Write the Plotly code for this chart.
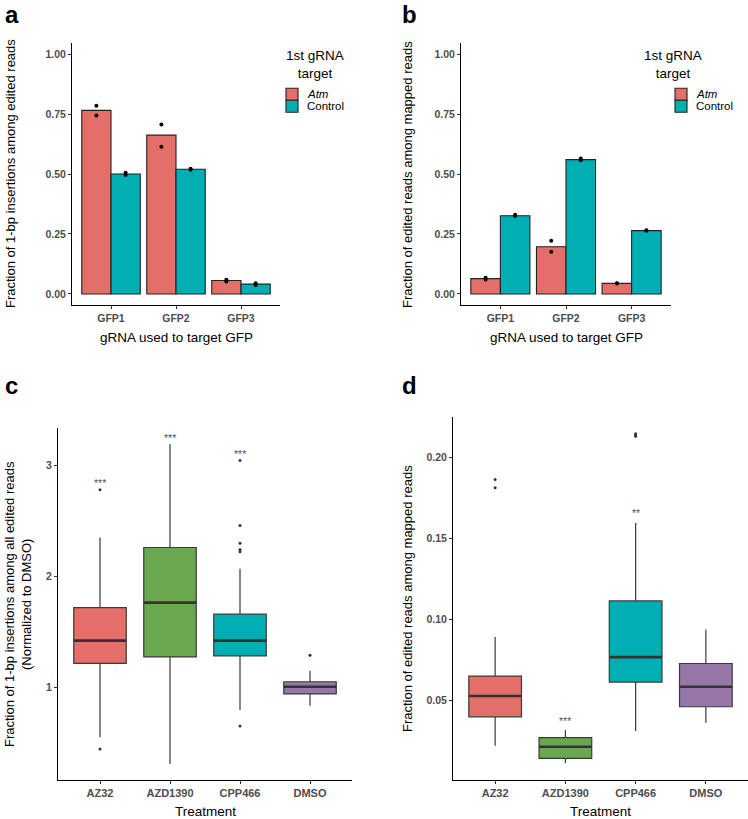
import plotly.graph_objects as go

W, H = 748, 819

# ---- panels a / b : bar charts ----
guides = ["GFP1", "GFP2", "GFP3"]
a_atm = [0.765, 0.662, 0.056]
a_ctrl = [0.500, 0.520, 0.041]
a_atm_rep1 = [0.784, 0.706, 0.059]
a_atm_rep2 = [0.744, 0.614, 0.052]
a_ctrl_rep1 = [0.505, 0.522, 0.045]
a_ctrl_rep2 = [0.496, 0.518, 0.037]

b_atm = [0.064, 0.197, 0.044]
b_ctrl = [0.326, 0.560, 0.264]
b_atm_rep1 = [0.068, 0.222, 0.045]
b_atm_rep2 = [0.060, 0.176, 0.044]
b_ctrl_rep1 = [0.330, 0.565, 0.266]
b_ctrl_rep2 = [0.325, 0.557, 0.263]

# ---- panels c / d : box plots (precomputed stats) ----
treatments = ["AZ32", "AZD1390", "CPP466", "DMSO"]
c_q1 = [1.216, 1.273, 1.282, 0.940]
c_med = [1.420, 1.762, 1.420, 1.005]
c_q3 = [1.717, 2.258, 1.658, 1.050]
c_lo = [0.550, 0.309, 0.795, 0.834]
c_hi = [2.348, 3.190, 2.066, 1.150]
c_out_x = ["AZ32", "AZ32", "CPP466", "CPP466", "CPP466", "CPP466", "CPP466", "CPP466", "DMSO"]
c_out_y = [2.777, 0.444, 3.040, 2.456, 2.297, 2.240, 2.220, 0.651, 1.288]
c_sig_x = ["AZ32", "AZD1390", "CPP466"]
c_sig_y = [2.84, 3.24, 3.10]
c_sig = ["***", "***", "***"]

d_q1 = [0.0397, 0.0140, 0.0611, 0.0459]
d_med = [0.0525, 0.0212, 0.0765, 0.0582]
d_q3 = [0.0648, 0.0268, 0.1112, 0.0726]
d_lo = [0.0218, 0.0110, 0.0309, 0.0360]
d_hi = [0.0890, 0.0315, 0.1593, 0.0936]
d_out_x = ["AZ32", "AZ32", "CPP466", "CPP466", "CPP466"]
d_out_y = [0.1862, 0.1811, 0.2144, 0.2136, 0.2128]
d_sig_x = ["AZD1390", "CPP466"]
d_sig_y = [0.0372, 0.1652]
d_sig = ["***", "**"]

RED = "#E46E68"
TEAL = "#00AEB3"
GREEN = "#6AA84F"
PURPLE = "#9677A8"
box_cols = [RED, GREEN, TEAL, PURPLE]
FONT = "Liberation Sans, Arial, sans-serif"


def px(x):
    return x / W


def py(y):
    return 1 - y / H


fig = go.Figure()


def add_bars(xa, ya, atm, ctrl, reps):
    fig.add_trace(go.Bar(x=guides, y=atm, name="Atm", offsetgroup="atm",
                         marker=dict(color=RED, line=dict(color="#222", width=1.1)),
                         xaxis=xa, yaxis=ya, showlegend=False))
    fig.add_trace(go.Bar(x=guides, y=ctrl, name="Control", offsetgroup="ctrl",
                         marker=dict(color=TEAL, line=dict(color="#222", width=1.1)),
                         xaxis=xa, yaxis=ya, showlegend=False))
    for grp, r1, r2 in reps:
        fig.add_trace(go.Scatter(x=guides + guides, y=r1 + r2, mode="markers",
                                 offsetgroup=grp, marker=dict(color="black", size=4),
                                 xaxis=xa, yaxis=ya, showlegend=False))


add_bars("x", "y", a_atm, a_ctrl,
         [("atm", a_atm_rep1, a_atm_rep2), ("ctrl", a_ctrl_rep1, a_ctrl_rep2)])
add_bars("x2", "y2", b_atm, b_ctrl,
         [("atm", b_atm_rep1, b_atm_rep2), ("ctrl", b_ctrl_rep1, b_ctrl_rep2)])


def add_boxes(xa, ya, q1, med, q3, lo, hi, ox, oy, sx, sy, st):
    for i, t in enumerate(treatments):
        fig.add_trace(go.Box(x=[t], q1=[q1[i]], median=[med[i]], q3=[q3[i]],
                             lowerfence=[lo[i]], upperfence=[hi[i]],
                             fillcolor=box_cols[i], line=dict(color="#3a3a3a", width=1.2),
                             whiskerwidth=0, xaxis=xa, yaxis=ya, showlegend=False,
                             boxpoints=False))
    # thicker median line, as in ggplot
    fig.add_trace(go.Box(x=treatments, q1=med, median=med, q3=med, lowerfence=med,
                         upperfence=med, fillcolor="rgba(0,0,0,0)",
                         line=dict(color="#333", width=2.6), whiskerwidth=0,
                         xaxis=xa, yaxis=ya, showlegend=False, boxpoints=False))
    fig.add_trace(go.Scatter(x=ox, y=oy, mode="markers", offsetgroup="out",
                             marker=dict(color="#333", size=3),
                             xaxis=xa, yaxis=ya, showlegend=False))
    for t, y, s in zip(sx, sy, st):
        fig.add_annotation(x=t, y=y, xref=xa, yref=ya, text=s, showarrow=False,
                           yanchor="middle",
                           font=dict(family=FONT, size=10.5, color="#555"))


add_boxes("x3", "y3", c_q1, c_med, c_q3, c_lo, c_hi, c_out_x, c_out_y, c_sig_x, c_sig_y, c_sig)
add_boxes("x4", "y4", d_q1, d_med, d_q3, d_lo, d_hi, d_out_x, d_out_y, d_sig_x, d_sig_y, d_sig)

tickfont = dict(family=FONT, size=10.5, color="#4d4d4d", weight="bold")
axis_common = dict(showline=True, linecolor="black", linewidth=1.1, showgrid=False,
                   zeroline=False, ticks="outside", ticklen=3, tickcolor="#333",
                   tickwidth=1, tickfont=tickfont, automargin=False)

fig.update_layout(
    width=W, height=H, margin=dict(l=0, r=0, t=0, b=0),
    plot_bgcolor="white", paper_bgcolor="white",
    font=dict(family=FONT, color="black"),
    barmode="group", bargap=0.1, bargroupgap=0,
    scattermode="group", scattergap=0.1,
    boxmode="overlay", boxgap=0.25, boxgroupgap=0,
    showlegend=False,
    xaxis=dict(domain=[px(72), px(280)], range=[-0.6, 2.6], anchor="y", **axis_common),
    yaxis=dict(domain=[py(305), py(43)], range=[-0.046, 1.046], anchor="x",
               tickvals=[0, 0.25, 0.5, 0.75, 1.0], tickformat=".2f", **axis_common),
    xaxis2=dict(domain=[px(461), px(671)], range=[-0.6, 2.6], anchor="y2", **axis_common),
    yaxis2=dict(domain=[py(305), py(43)], range=[-0.046, 1.046], anchor="x2",
                tickvals=[0, 0.25, 0.5, 0.75, 1.0], tickformat=".2f", **axis_common),
    xaxis3=dict(domain=[px(58), px(352)], range=[-0.6, 3.6], anchor="y3",
                **{**axis_common, "tickfont": {**tickfont, "size": 11}}),
    yaxis3=dict(domain=[py(780), py(428)], range=[0.166, 3.333], anchor="x3",
                tickvals=[1, 2, 3], **axis_common),
    xaxis4=dict(domain=[px(453), px(748)], range=[-0.6, 3.6], anchor="y4",
                **{**axis_common, "tickfont": {**tickfont, "size": 11}}),
    yaxis4=dict(domain=[py(780), py(417)], range=[0.0007, 0.2247], anchor="x4",
                tickvals=[0.05, 0.10, 0.15, 0.20], tickformat=".2f", **axis_common),
)

# ggplot-style legends for panels a and b (touching square keys)
legend_names = ["<i>Atm</i>", "Control"]
legend_cols = [RED, TEAL]
for dx in (0, 389):
    fig.add_annotation(text="1st gRNA<br>target", x=px(315 + dx), y=py(65), xref="paper",
                       yref="paper", showarrow=False, align="center", yanchor="middle",
                       font=dict(family=FONT, size=13.5, color="black"))
    for k, (nm, col) in enumerate(zip(legend_names, legend_cols)):
        y0 = 88.3 + 12 * k
        fig.add_shape(type="rect", xref="paper", yref="paper",
                      x0=px(286 + dx), x1=px(298 + dx), y0=py(y0), y1=py(y0 + 12),
                      fillcolor=col, line=dict(color="#222", width=1.1))
        fig.add_annotation(text=nm, x=px(305 + dx), y=py(y0 + 6), xref="paper",
                           yref="paper", xanchor="left", yanchor="middle", showarrow=False,
                           font=dict(family=FONT, size=11.5, color="black"))

annots = [
    # panel letters
    dict(text="<b>a</b>", x=px(3), y=py(14), size=24, xanchor="left"),
    dict(text="<b>b</b>", x=px(400), y=py(14), size=24, xanchor="left"),
    dict(text="<b>c</b>", x=px(3), y=py(385), size=24, xanchor="left"),
    dict(text="<b>d</b>", x=px(400), y=py(385), size=24, xanchor="left"),
    # x titles
    dict(text="gRNA used to target GFP", x=px(176), y=py(337), size=13.5),
    dict(text="gRNA used to target GFP", x=px(566), y=py(337), size=13.5),
    dict(text="Treatment", x=px(205), y=py(811), size=13.5),
    dict(text="Treatment", x=px(600), y=py(811), size=13.5),
    # y titles
    dict(text="Fraction of 1-bp insertions among edited reads", x=px(10), y=py(174),
         size=13, angle=-90),
    dict(text="Fraction of edited reads among mapped reads", x=px(407), y=py(174),
         size=13, angle=-90),
    dict(text="Fraction of 1-bp insertions among all edited reads<br>(Normalized to DMSO)",
         x=px(18), y=py(604), size=13, angle=-90),
    dict(text="Fraction of edited reads among mapped reads", x=px(407), y=py(598),
         size=13, angle=-90),
]
for a in annots:
    fig.add_annotation(text=a["text"], x=a["x"], y=a["y"], xref="paper", yref="paper",
                       xanchor=a.get("xanchor", "center"), yanchor="middle",
                       textangle=a.get("angle", 0), showarrow=False,
                       font=dict(family=FONT, size=a["size"], color="black"))

# drop the browser's default 8px body margin so the figure fills the window
fig.write_html("out.html", config={"displayModeBar": False},
               post_script="document.body.style.margin='0';")
